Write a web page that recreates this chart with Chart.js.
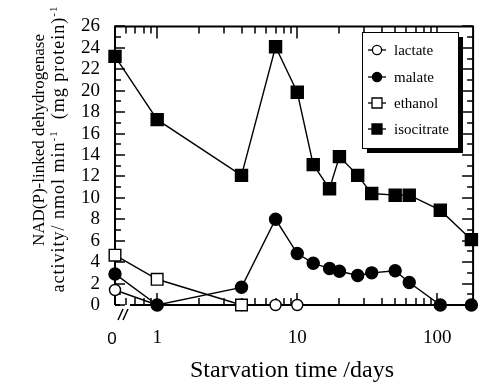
<!DOCTYPE html>
<html><head><meta charset="utf-8">
<script src="https://cdn.jsdelivr.net/npm/chart.js@4.4.0/dist/chart.umd.min.js"></script>
<style>html,body{margin:0;padding:0;background:#fff;}</style>
</head><body>
<canvas id="c" width="483" height="387" style="width:483px;height:387px;display:block"></canvas>
<script>
// ---- data ----
const days = [0, 1, 4, 7, 10, 13, 17, 20, 27, 34, 50, 63, 105, 175];
const isocitrate = [23.2, 17.3, 12.1, 24.1, 19.85, 13.1, 10.85, 13.85, 12.1, 10.4, 10.25, 10.25, 8.85, 6.1];
const malate = [2.9, 0, 1.65, 8.0, 4.8, 3.9, 3.4, 3.15, 2.75, 3.0, 3.2, 2.1, 0, 0];
const ethanolDays = [0, 1, 4];
const ethanol = [4.65, 2.4, 0];
const lactateDays = [0, 1, 4, 7, 10];
const lactate = [1.4, 0, 0, 0, 0];
const yTickValues = [0, 2, 4, 6, 8, 10, 12, 14, 16, 18, 20, 22, 24, 26];
const xTickValues = [1, 10, 100];
const xMinorTicks = [0.6, 0.7, 0.8, 0.9, 2, 3, 4, 5, 6, 7, 8, 9, 20, 30, 40, 50, 60, 70, 80, 90];
const zeroPosition = 0.5; // where "day 0" is drawn on the log axis (axis break)

const serif = 'Liberation Serif, Times New Roman, serif';
const toPts = (xs, ys) => xs.map((d, i) => ({x: d === 0 ? zeroPosition : d, y: ys[i]}));

const series = [
  {label: 'lactate', data: toPts(lactateDays, lactate), pointStyle: 'circle', pointRadius: 5.5, fill: '#fff', order: 3},
  {label: 'malate', data: toPts(days, malate), pointStyle: 'circle', pointRadius: 6, fill: '#000', order: 1},
  {label: 'ethanol', data: toPts(ethanolDays, ethanol), pointStyle: 'rect', pointRadius: 8.2, fill: '#fff', order: 2},
  {label: 'isocitrate', data: toPts(days, isocitrate), pointStyle: 'rect', pointRadius: 8.5, fill: '#000', order: 0}
];

const framePlugin = {
  id: 'frame',
  beforeDatasetsDraw(chart) {
    const {ctx, chartArea: a, scales: {x, y}} = chart;
    ctx.save();
    ctx.strokeStyle = '#000';
    ctx.lineWidth = 2;
    ctx.beginPath();
    ctx.moveTo(a.left, a.bottom); ctx.lineTo(a.left, a.top); ctx.lineTo(a.right, a.top);
    ctx.lineTo(a.right, a.bottom); ctx.lineTo(130, a.bottom);
    ctx.moveTo(a.left, a.bottom); ctx.lineTo(a.left + 5, a.bottom);
    ctx.stroke();
    ctx.lineWidth = 1.5;
    ctx.beginPath();
    for (let v = 0; v <= 26; v++) {
      const py = Math.round(y.getPixelForValue(v));
      const major = v % 2 === 0;
      ctx.moveTo(a.left, py); ctx.lineTo(a.left + (major ? 10 : 6), py);
      ctx.moveTo(a.right, py); ctx.lineTo(a.right - (major ? 11 : 6), py);
    }
    xMinorTicks.forEach(v => {
      const px = Math.round(x.getPixelForValue(v));
      ctx.moveTo(px, a.bottom); ctx.lineTo(px, a.bottom - 7);
      ctx.moveTo(px, a.top); ctx.lineTo(px, a.top + 7);
    });
    xTickValues.forEach(v => {
      const px = Math.round(x.getPixelForValue(v));
      ctx.moveTo(px, a.bottom); ctx.lineTo(px, a.bottom - 12);
      ctx.moveTo(px, a.top); ctx.lineTo(px, a.top + 12);
    });
    ctx.stroke();
    // axis break marks
    ctx.beginPath();
    ctx.moveTo(118, a.bottom + 15); ctx.lineTo(123, a.bottom + 4);
    ctx.moveTo(123, a.bottom + 15); ctx.lineTo(128, a.bottom + 4);
    ctx.stroke();
    // "0" label
    ctx.fillStyle = '#000';
    ctx.font = '17px Liberation Sans, Arial, sans-serif';
    ctx.textAlign = 'center'; ctx.textBaseline = 'alphabetic';
    ctx.fillText('0', 112, 344);
    ctx.restore();
  },
  afterDraw(chart) {
    const {ctx, chartArea: a} = chart;
    ctx.save();
    ctx.fillStyle = '#000';
    // x title
    ctx.font = '24px ' + serif;
    ctx.textAlign = 'center'; ctx.textBaseline = 'alphabetic';
    ctx.fillText('Starvation time /days', 292, 377);
    // y title (rotated)
    ctx.save();
    ctx.translate(44, 140);
    ctx.rotate(-Math.PI / 2);
    ctx.font = '17px ' + serif;
    ctx.textAlign = 'center';
    ctx.fillText('NAD(P)-linked dehydrogenase', 0, 0);
    ctx.restore();
    ctx.save();
    ctx.translate(64, 149);
    ctx.rotate(-Math.PI / 2);
    ctx.letterSpacing = '1px';
    const parts = [['activity/ nmol min', false], ['-1', true], ['  (mg protein)', false], ['-1', true]];
    const big = '18px ' + serif, small = '11px ' + serif;
    let total = 0;
    parts.forEach(p => { ctx.font = p[1] ? small : big; total += ctx.measureText(p[0]).width; });
    let cx = -total / 2;
    ctx.textAlign = 'left';
    parts.forEach(p => {
      ctx.font = p[1] ? small : big;
      ctx.fillText(p[0], cx, p[1] ? -7 : 0);
      cx += ctx.measureText(p[0]).width;
    });
    ctx.restore();
    // legend
    const L = 362, T = 32, R = 458, B = 148;
    ctx.fillRect(R, T + 5, 5, B - T);
    ctx.fillRect(L + 5, B, R - L, 5);
    ctx.fillStyle = '#fff';
    ctx.fillRect(L, T, R - L, B - T);
    ctx.strokeStyle = '#000'; ctx.lineWidth = 1;
    ctx.strokeRect(L + 0.5, T + 0.5, R - L, B - T);
    const rows = [50, 77, 103, 129];
    ctx.font = '15px ' + serif;
    ctx.textBaseline = 'middle'; ctx.textAlign = 'left';
    series.forEach((s, i) => {
      const yy = rows[i];
      ctx.lineWidth = 1.3;
      ctx.beginPath(); ctx.moveTo(368, yy); ctx.lineTo(386, yy); ctx.stroke();
      ctx.fillStyle = s.fill;
      ctx.beginPath();
      if (s.pointStyle === 'circle') ctx.arc(377, yy, 4.6, 0, Math.PI * 2);
      else ctx.rect(372, yy - 5, 10, 10);
      ctx.fill(); ctx.stroke();
      ctx.fillStyle = '#000';
      ctx.fillText(s.label, 394, yy + 1);
    });
    ctx.restore();
  }
};

new Chart(document.getElementById('c'), {
  type: 'line',
  data: {
    datasets: series.map(s => ({
      label: s.label, data: s.data, order: s.order,
      pointStyle: s.pointStyle, pointRadius: s.pointRadius, pointHoverRadius: s.pointRadius,
      pointBackgroundColor: s.fill, pointBorderColor: '#000', pointBorderWidth: 1.4,
      borderColor: '#000', borderWidth: 1.4, backgroundColor: s.fill,
      tension: 0, clip: false, fill: false
    }))
  },
  options: {
    responsive: false, animation: false, devicePixelRatio: 1,
    layout: {padding: {left: 0, right: 4, top: 16, bottom: 0}},
    plugins: {legend: {display: false}, tooltip: {enabled: false}},
    events: [],
    scales: {
      x: {
        type: 'logarithmic', min: zeroPosition, max: 180,
        grid: {display: false, drawTicks: false}, border: {display: false},
        afterBuildTicks: s => { s.ticks = xTickValues.map(v => ({value: v})); },
        ticks: {autoSkip: false, maxRotation: 0, padding: 22, color: '#000',
          font: {family: serif, size: 19}, callback: v => String(v)},
        afterFit: s => { s.height = 82; }
      },
      y: {
        min: 0, max: 26,
        grid: {display: false, drawTicks: false}, border: {display: false},
        afterBuildTicks: s => { s.ticks = yTickValues.map(v => ({value: v})); },
        ticks: {autoSkip: false, padding: 15, color: '#000', font: {family: serif, size: 19}},
        afterFit: s => { s.width = 115; }
      }
    }
  },
  plugins: [framePlugin]
});
</script>
</body></html>
